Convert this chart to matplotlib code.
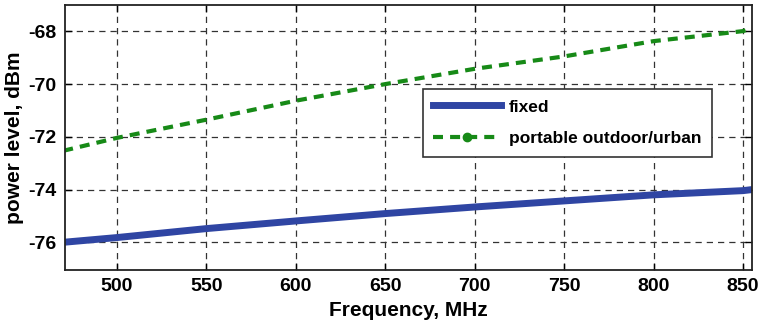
import matplotlib.pyplot as plt
from matplotlib.lines import Line2D

plt.rcParams['font.family'] = ['Liberation Sans', 'DejaVu Sans']
plt.rcParams['font.weight'] = 'bold'
plt.rcParams['axes.unicode_minus'] = False

# received power vs. UHF frequency
freq = [470, 500, 550, 600, 650, 700, 750, 800, 850, 855]
fixed = [-76.0, -75.82, -75.48, -75.19, -74.91, -74.66, -74.43, -74.2, -74.04, -74.0]
portable = [-72.53, -72.04, -71.35, -70.63, -70.0, -69.42, -68.95, -68.37, -67.99, -67.87]

xticks = [500, 550, 600, 650, 700, 750, 800, 850]
yticks = [-76, -74, -72, -70, -68]

blue = '#2f45a3'
green = '#178a17'

fig = plt.figure(figsize=(7.6, 3.26), dpi=100)
ax = fig.add_axes([65/760, 56/326, 687/760, 265/326])

ax.plot(freq, fixed, color=blue, lw=5.0, solid_capstyle='butt')
ax.plot(freq, portable, color=green, lw=3.0, dashes=(2.4, 1.7))

ax.set_xlim(471, 855)
ax.set_ylim(-77.05, -67.0)
ax.set_xticks(xticks)
ax.set_yticks(yticks)
ax.tick_params(direction='in', top=True, right=True, length=5, width=1,
               labelsize=14, pad=6)
for s in ax.spines.values():
    s.set_linewidth(1.3)
    s.set_color('#222222')

ax.grid(True, color='#333333', lw=0.9, dashes=(5, 4))
ax.set_axisbelow(True)

ax.set_xlabel('Frequency, MHz', fontsize=15, fontweight='bold', labelpad=4)
ax.set_ylabel('power level, dBm', fontsize=15, fontweight='bold', labelpad=3)

handles = [
    Line2D([], [], color=blue, lw=5.0),
    Line2D([], [], color=green, lw=3.0, dashes=(2.4, 1.7), marker='o', markersize=6),
]
leg = ax.legend(handles, ['fixed', 'portable outdoor/urban'],
                loc='upper left', bbox_to_anchor=(0.521, 0.683),
                fontsize=12.5, handlelength=3.9, handletextpad=0.45,
                labelspacing=0.95, borderpad=0.6, fancybox=False,
                framealpha=1, borderaxespad=0)
leg.get_frame().set_edgecolor('#333333')
leg.get_frame().set_linewidth(1.2)

fig.savefig('out.png', dpi=100)
